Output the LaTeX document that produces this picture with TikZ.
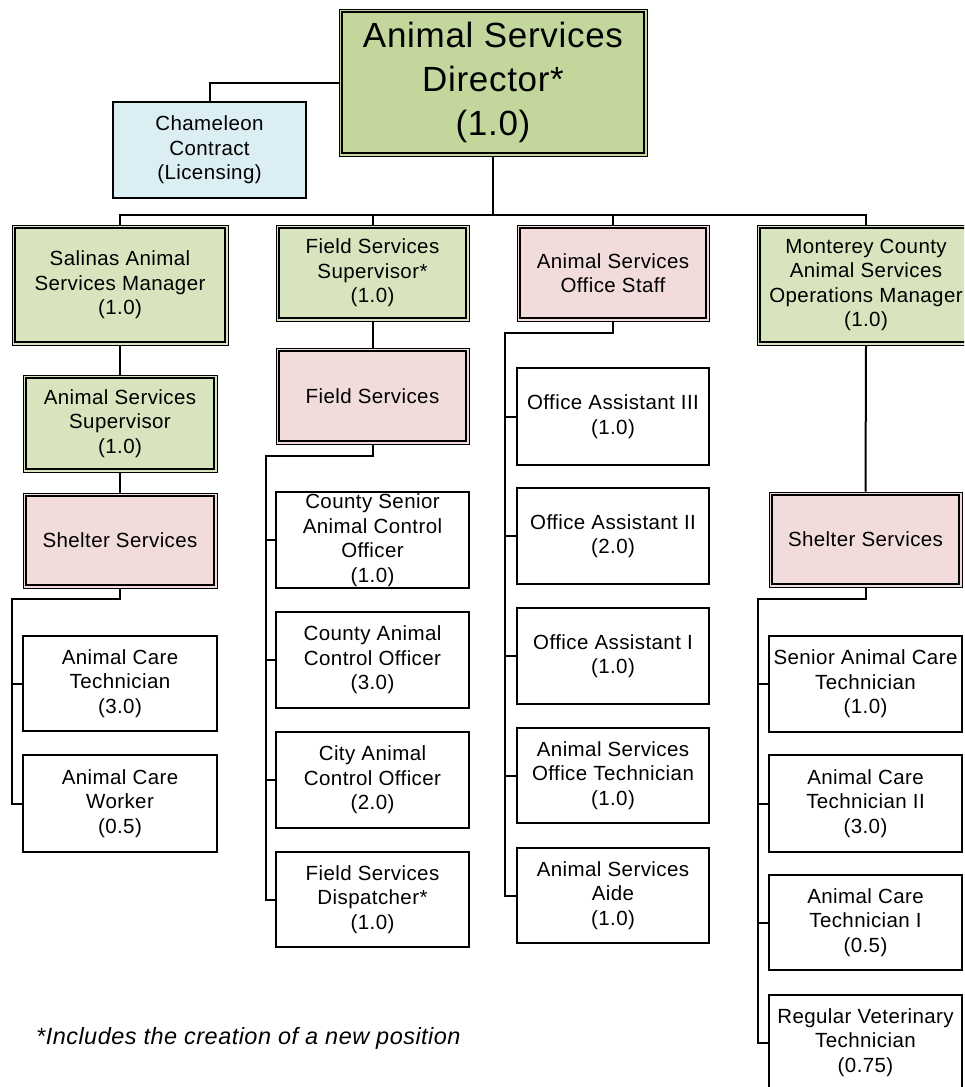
\documentclass[tikz,border=0pt]{standalone}
\usepackage{fontspec}
\setmainfont{Liberation Sans}[LetterSpace=2]
\definecolor{dirgreen}{HTML}{C3D69B}
\definecolor{ltgreen}{HTML}{D7E4BD}
\definecolor{ltpink}{HTML}{F2DCDB}
\definecolor{ltblue}{HTML}{DBEEF4}
\tikzset{
  box/.style={draw=black, line width=1.6pt, fill=white, rectangle, inner sep=0pt,
    align=center, minimum width=193pt, minimum height=96pt,
    font=\fontsize{20.5}{24.5}\selectfont},
  dbox/.style={box, line width=1pt},
  conn/.style={draw=black, line width=2pt},
  inner/.style={draw=black, line width=1.8pt}
}
\begin{document}
\begin{tikzpicture}[x=1pt,y=-1pt]
\path[use as bounding box, clip] (0,0) rectangle (964,1087);

% top
\node[dbox, fill=dirgreen, minimum width=308pt, minimum height=147pt,
  font=\fontsize{35}{44}\selectfont] (dir) at (493,82.5) {Animal Services\\Director*\\(1.0)};
\node[box, fill=ltblue, line width=1.5pt] (cham) at (209.5,150) {Chameleon\\Contract\\(Licensing)};

% level 2
\node[dbox, fill=ltgreen, minimum width=216pt, minimum height=120pt] (salinas) at (120,285) {Salinas Animal\\Services Manager\\(1.0)};
\node[dbox, fill=ltgreen] (fss) at (372.5,273) {Field Services\\Supervisor*\\(1.0)};
\node[dbox, fill=ltpink, minimum width=192pt] (ostaff) at (613,273) {Animal Services\\Office Staff};
\node[dbox, fill=ltgreen, minimum width=218pt, minimum height=120pt] (mcm) at (866,285) {Monterey County\\Animal Services\\Operations Manager\\(1.0)};

% left column
\node[dbox, fill=ltgreen, minimum width=194pt, minimum height=97pt] (assup) at (120,423.5) {Animal Services\\Supervisor\\(1.0)};
\node[dbox, fill=ltpink, minimum width=194pt, minimum height=95pt] (shelterL) at (120,540.5) {Shelter Services};
\node[box, minimum width=194pt, minimum height=95pt] (act) at (120,683.5) {Animal Care\\Technician\\(3.0)};
\node[box, minimum width=194pt, minimum height=97pt] (acw) at (120,803.5) {Animal Care\\Worker\\(0.5)};

% field column
\node[dbox, fill=ltpink] (fs) at (372.5,396) {Field Services};
\node[box] (csaco) at (372.5,540) {County Senior\\Animal Control\\Officer\\(1.0)};
\node[box] (caco) at (372.5,660) {County Animal\\Control Officer\\(3.0)};
\node[box] (city) at (372.5,780) {City Animal\\Control Officer\\(2.0)};
\node[box, minimum height=95pt] (disp) at (372.5,899.5) {Field Services\\Dispatcher*\\(1.0)};

% office column
\node[box, minimum width=192pt, minimum height=97pt] (oa3) at (613,416.5) {Office Assistant III\\(1.0)};
\node[box, minimum width=192pt] (oa2) at (613,536) {Office Assistant II\\(2.0)};
\node[box, minimum width=192pt] (oa1) at (613,656) {Office Assistant I\\(1.0)};
\node[box, minimum width=192pt, minimum height=95pt] (otech) at (613,775.5) {Animal Services\\Office Technician\\(1.0)};
\node[box, minimum width=192pt, minimum height=95pt] (aide) at (613,895.5) {Animal Services\\Aide\\(1.0)};

% right column
\node[dbox, fill=ltpink, minimum height=95pt] (shelterR) at (865.5,539.5) {Shelter Services};
\node[box] (sact) at (865.5,684) {Senior Animal Care\\Technician\\(1.0)};
\node[box, minimum height=97pt] (act2) at (865.5,803.5) {Animal Care\\Technician II\\(3.0)};
\node[box, minimum height=95pt] (act1) at (865.5,922.5) {Animal Care\\Technician I\\(0.5)};
\node[box, minimum height=95pt] (rvt) at (865.5,1042.5) {Regular Veterinary\\Technician\\(0.75)};

% inner borders of double boxes
\foreach \n in {dir,salinas,fss,ostaff,mcm,assup,shelterL,fs,shelterR}
  \draw[inner] ([xshift=3.8pt,yshift=-3.8pt]\n.north west) rectangle ([xshift=-3.8pt,yshift=3.8pt]\n.south east);

% connectors
\draw[conn] (dir.west) -| (cham.north);
\draw[conn] (dir.south) -- ++(0,58) coordinate (bus);
\draw[conn] (salinas.north) |- (bus);
\draw[conn] (fss.north) |- (bus);
\draw[conn] (ostaff.north) |- (bus);
\draw[conn] (mcm.north) |- (bus);

\draw[conn] (salinas.south) -- (assup.north);
\draw[conn] (assup.south) -- (shelterL.north);
\draw[conn] (fss.south) -- (fs.north);
\draw[conn] (mcm.south) -- (shelterR.north);

\draw[conn] (shelterL.south) |- (12,599) coordinate (tL) -- (tL |- acw.west) -- (acw.west);
\draw[conn] (act.west) -- (act.west -| tL);

\draw[conn] (fs.south) |- (266,456) coordinate (tF) -- (tF |- disp.west) -- (disp.west);
\foreach \n in {csaco,caco,city} \draw[conn] (\n.west) -- (\n.west -| tF);

\draw[conn] (ostaff.south) |- (505,333) coordinate (tO) -- (tO |- aide.west) -- (aide.west);
\foreach \n in {oa3,oa2,oa1,otech} \draw[conn] (\n.west) -- (\n.west -| tO);

\draw[conn] (shelterR.south) |- (758,599) coordinate (tR) -- (tR |- rvt.west) -- (rvt.west);
\foreach \n in {sact,act2,act1} \draw[conn] (\n.west) -- (\n.west -| tR);

% footnote
\node[anchor=west, inner sep=0pt, font=\fontsize{23.5}{28}\selectfont\itshape] (note) at (36,1038) {*Includes the creation of a new position};
\end{tikzpicture}
\end{document}
